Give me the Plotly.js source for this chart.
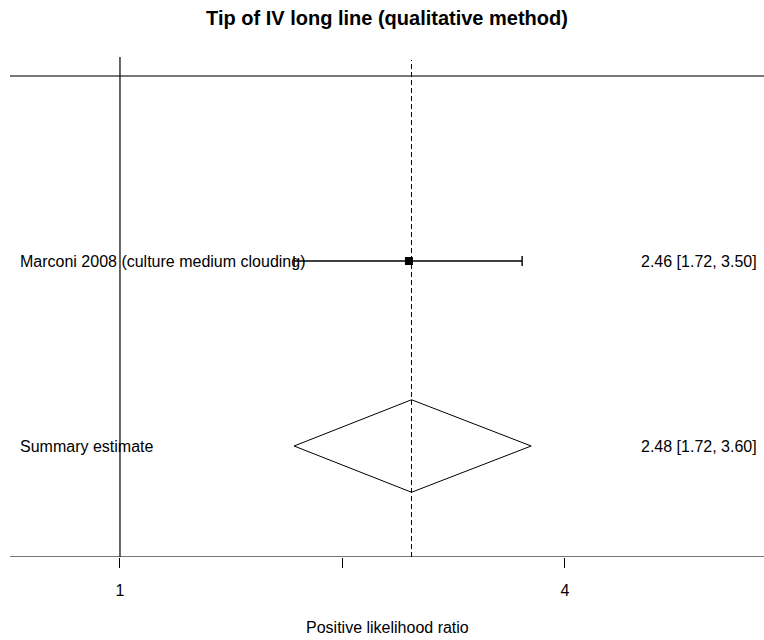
<!DOCTYPE html>
<html>
<head>
<meta charset="utf-8">
<script src="https://cdn.plot.ly/plotly-3.0.1.min.js"></script>
<style>html,body{margin:0;padding:0;background:#fff;}#chart{width:764px;height:640px;}</style>
</head>
<body>
<div id="chart"></div>
<script>
// Data
const studyLabels = ["Marconi 2008 (culture medium clouding)"];
const studyEst = [2.46];
const studyLo = [1.72];
const studyHi = [3.50];
const studyText = ["2.46 [1.72, 3.50]"];

const summaryLabel = "Summary estimate";
const summaryEst = [2.48];
const summaryLo = [1.72];
const summaryHi = [3.60];
const summaryText = ["2.48 [1.72, 3.60]"];

const tickVals = [1, 2, 4];
const tickLabels = ["1", "", "4"];

// Layout constants
const rowStudy = 2, rowSummary = 1, diamondHalf = 0.25;
const font = "Liberation Sans, Arial, sans-serif";

const traces = [
  {
    x: studyEst, y: [rowStudy], type: "scatter", mode: "markers",
    marker: {symbol: "square", size: 8, color: "#000"},
    error_x: {type: "data", symmetric: false,
      array: studyHi.map((h, i) => h - studyEst[i]),
      arrayminus: studyLo.map((l, i) => studyEst[i] - l),
      color: "#000", thickness: 1.4, width: 5},
    hoverinfo: "skip", showlegend: false
  },
  {
    x: [summaryLo[0], summaryEst[0], summaryHi[0], summaryEst[0], summaryLo[0]],
    y: [rowSummary, rowSummary + diamondHalf, rowSummary, rowSummary - diamondHalf, rowSummary],
    type: "scatter", mode: "lines", fill: "toself", fillcolor: "rgba(255,255,255,0)",
    line: {color: "#000", width: 1}, hoverinfo: "skip", showlegend: false
  }
];

const L = 10, W = 754, T = 57, H = 500;
const px = p => (p - L) / W;

const layout = {
  width: 764, height: 640,
  margin: {l: L, r: 0, t: T, b: 640 - T - H},
  paper_bgcolor: "#fff", plot_bgcolor: "#fff",
  font: {family: font, size: 16, color: "#000"},
  title: {text: "<b>Tip of IV long line (qualitative method)</b>", x: 0.5, xref: "paper",
    y: 1 - 18 / 640, yref: "container", yanchor: "middle", font: {family: font, size: 20, color: "#000"}},
  xaxis: {type: "log", range: [-0.1488, 0.8713], showgrid: false, zeroline: false,
    tickvals: tickVals, ticktext: tickLabels, ticks: "outside", ticklen: 10, tickcolor: "#000",
    tickwidth: 1, ticklabelstandoff: 9, showline: false, tickfont: {family: font, size: 16, color: "#000"},
    fixedrange: true},
  yaxis: {range: [0.4, 3.1027], showgrid: false, zeroline: false, showticklabels: false,
    ticks: "", showline: false, fixedrange: true},
  shapes: [
    {type: "line", xref: "paper", yref: "y", x0: 0, x1: 1, y0: 3, y1: 3, line: {color: "#777", width: 2}},
    {type: "line", xref: "paper", yref: "y", x0: 0, x1: 1, y0: 0.4, y1: 0.4, line: {color: "#777", width: 2}},
    {type: "line", xref: "x", yref: "paper", x0: 1, x1: 1, y0: 0, y1: 1, line: {color: "#000", width: 1.2}},
    {type: "line", xref: "x", yref: "paper", x0: summaryEst[0], x1: summaryEst[0], y0: 0, y1: 0.994,
      line: {color: "#000", width: 1, dash: "5px,3px"}}
  ],
  annotations: [
    {text: studyLabels[0], xref: "paper", yref: "y", x: px(19), y: rowStudy, xanchor: "left", yanchor: "middle", showarrow: false, borderpad: 0},
    {text: summaryLabel, xref: "paper", yref: "y", x: px(19), y: rowSummary, xanchor: "left", yanchor: "middle", showarrow: false, borderpad: 0},
    {text: studyText[0], xref: "paper", yref: "y", x: px(758), y: rowStudy, xanchor: "right", yanchor: "middle", showarrow: false, borderpad: 0},
    {text: summaryText[0], xref: "paper", yref: "y", x: px(758), y: rowSummary, xanchor: "right", yanchor: "middle", showarrow: false, borderpad: 0},
    {text: "Positive likelihood ratio", xref: "paper", yref: "paper", x: 0.5, y: -(627 - 557) / H, xanchor: "center", yanchor: "middle", showarrow: false}
  ]
};

Plotly.newPlot("chart", traces, layout, {staticPlot: true, displayModeBar: false});
</script>
</body>
</html>
